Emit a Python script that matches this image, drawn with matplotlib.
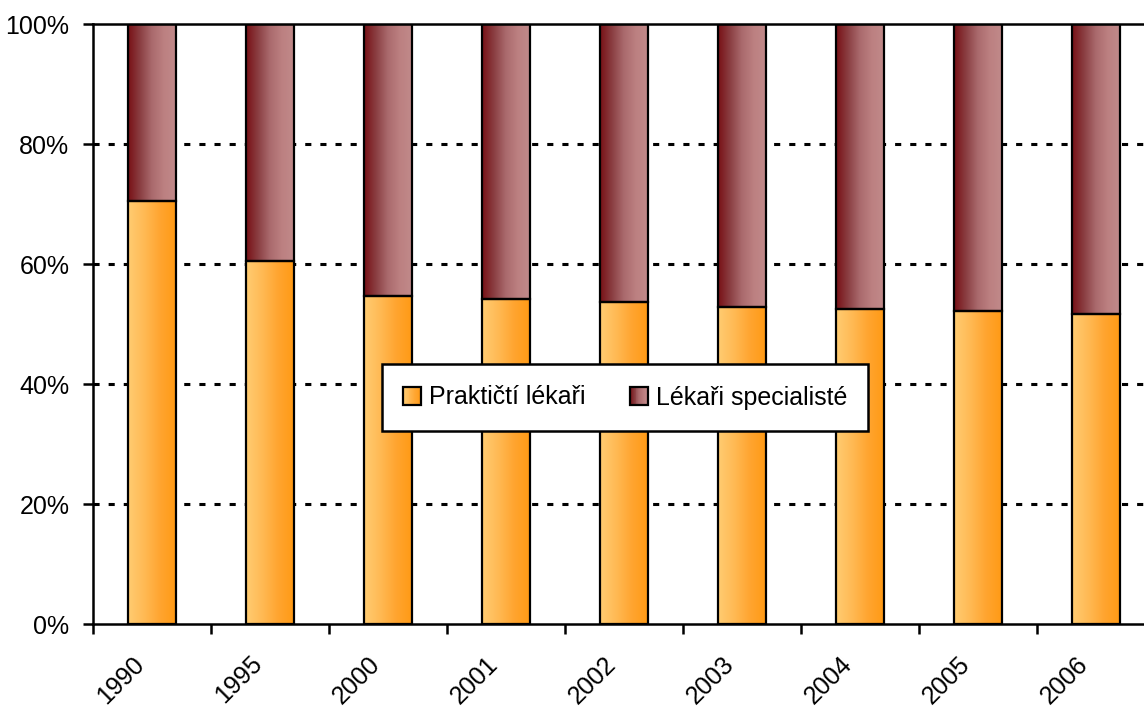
import matplotlib
matplotlib.use("Agg")
import matplotlib.pyplot as plt
import numpy as np
from matplotlib.colors import LinearSegmentedColormap
from matplotlib.patches import Rectangle
from matplotlib.legend_handler import HandlerBase
from matplotlib.transforms import ScaledTranslation
from matplotlib.ticker import FixedLocator, PercentFormatter

years = ["1990", "1995", "2000", "2001", "2002", "2003", "2004", "2005", "2006"]
prakticti = [70.5, 60.5, 54.7, 54.2, 53.7, 52.8, 52.5, 52.2, 51.7]
specialiste = [100 - v for v in prakticti]
series_names = ["Praktičtí lékaři", "Lékaři specialisté"]

plt.rcParams['font.family'] = ['Liberation Sans', 'DejaVu Sans']

orange_cmap = LinearSegmentedColormap.from_list(
    "or", ["#FFCC72", "#FFBA55", "#FFA530", "#FF9A15"])
maroon_cmap = LinearSegmentedColormap.from_list(
    "mr", ["#781015", "#8A3E42", "#AA6A6D", "#BC8081", "#C18A8A"])

fig = plt.figure(figsize=(11.44, 7.11), dpi=100)
ax = fig.add_axes([93 / 1144, 87 / 711, 1062 / 1144, 600 / 711])

x = np.arange(len(years))
width = 0.4
grad = np.linspace(0, 1, 256).reshape(1, -1)

bars1 = ax.bar(x, prakticti, width, facecolor="none", edgecolor="black",
               linewidth=1.6, zorder=3)
bars2 = ax.bar(x, specialiste, width, bottom=prakticti, facecolor="none",
               edgecolor="black", linewidth=1.6, zorder=3)

for bars, cmap in ((bars1, orange_cmap), (bars2, maroon_cmap)):
    for b in bars:
        x0, y0 = b.get_x(), b.get_y()
        w, h = b.get_width(), b.get_height()
        im = ax.imshow(grad, cmap=cmap, extent=(x0, x0 + w, y0, y0 + h),
                       aspect="auto", zorder=2, interpolation="bicubic")
        im.set_clip_path(b)

ax.set_xlim(-0.5, len(years) - 0.5)
ax.set_ylim(0, 100)

# grid
for yv in [20, 40, 60, 80]:
    ax.axhline(yv, color="black", linewidth=2.2, linestyle=(0, (2.0, 2.95)), zorder=1)

for s in ax.spines.values():
    s.set_linewidth(1.8)

ax.set_yticks([0, 20, 40, 60, 80, 100])
ax.yaxis.set_major_formatter(PercentFormatter(decimals=0))
ax.tick_params(axis="y", direction="out", length=7, width=1.8, pad=10,
               labelsize=18)

ax.set_xticks(x)
ax.set_xticklabels(years, rotation=45, ha="right", va="top")
ax.xaxis.set_minor_locator(FixedLocator(np.arange(-0.5, len(years), 1.0)))
ax.tick_params(axis="x", which="major", length=0, pad=20, labelsize=18)
ax.tick_params(axis="x", which="minor", direction="out", length=7, width=1.8)
offset = ScaledTranslation(-3 / 100, 0, fig.dpi_scale_trans)
for lab in ax.get_xticklabels():
    lab.set_transform(lab.get_transform() + offset)


class GradHandler(HandlerBase):
    def __init__(self, cmap):
        super().__init__()
        self.cmap = cmap

    def create_artists(self, legend, orig_handle, xdescent, ydescent,
                       width, height, fontsize, trans):
        n = 20
        arts = []
        for i in range(n):
            r = Rectangle((-xdescent + width * i / n, -ydescent), width / n + 0.3,
                          height, facecolor=self.cmap((i + 0.5) / n),
                          edgecolor="none", transform=trans)
            arts.append(r)
        arts.append(Rectangle((-xdescent, -ydescent), width, height,
                              facecolor="none", edgecolor="black",
                              linewidth=1.6, transform=trans))
        return arts


h1 = Rectangle((0, 0), 1, 1)
h2 = Rectangle((0, 0), 1, 1)
leg = ax.legend([h1, h2], series_names, loc="center",
                bbox_to_anchor=(0.501, 0.3775), ncol=2, fontsize=18,
                handler_map={h1: GradHandler(orange_cmap), h2: GradHandler(maroon_cmap)},
                handlelength=0.72, handleheight=0.72, handletextpad=0.3,
                columnspacing=1.8, borderpad=0.85, fancybox=False,
                framealpha=1, edgecolor="black")
leg.get_frame().set_linewidth(1.8)
leg.set_zorder(5)

fig.savefig("out.png", dpi=100)
